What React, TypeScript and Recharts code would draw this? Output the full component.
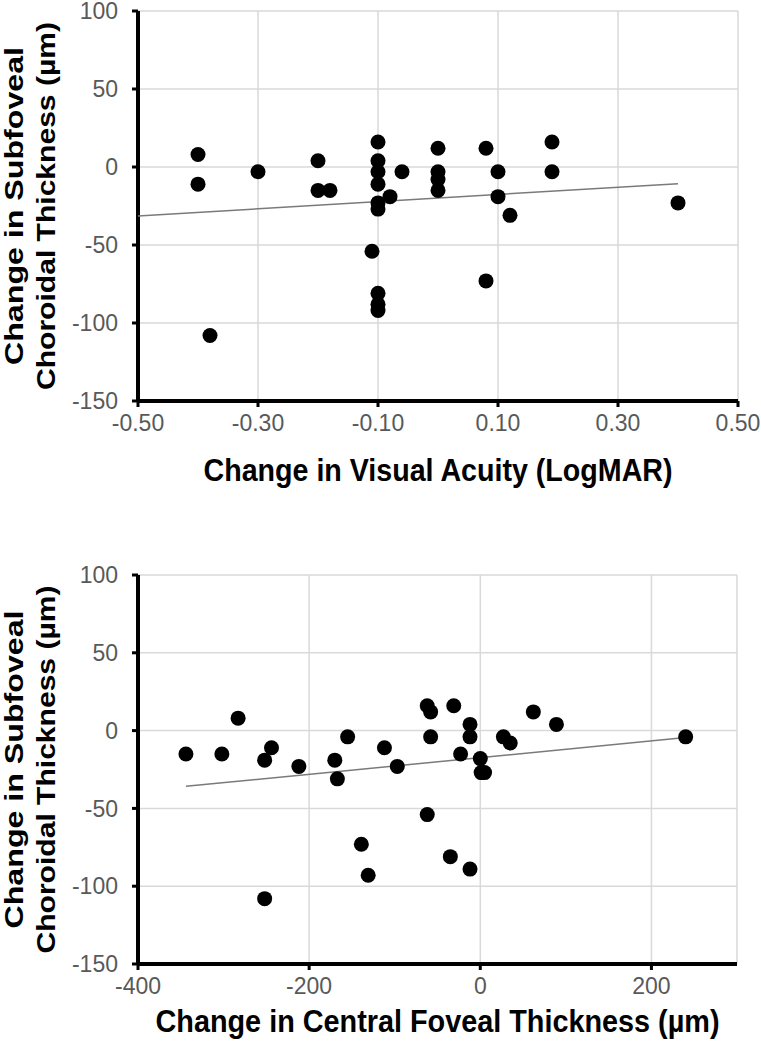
import React from "react";
import { ScatterChart, Scatter, XAxis, YAxis, CartesianGrid, Label } from "recharts";

// Top panel: change in visual acuity (logMAR) vs change in SFCT (µm)
const vaChange = [
  -0.4, -0.4, -0.38, -0.3, -0.2, -0.2, -0.18, -0.1, -0.1, -0.1, -0.1, -0.08, -0.1, -0.1, -0.11, -0.1,
  -0.1, -0.1, -0.06, 0, 0, 0, 0, 0.08, 0.1, 0.1, 0.12, 0.08, 0.19, 0.19, 0.4,
];
const sfctVsVa = [
  8, -11, -108, -3, 4, -15, -15, 16, 4, -3, -11, -19, -23, -27, -54, -81,
  -88, -92, -3, 12, -3, -8, -15, 12, -3, -19, -31, -73, 16, -3, -23,
];
const vaTrendX = [-0.5, 0.4];
const vaTrendY = [-31.4, -10.7];

// Bottom panel: change in central foveal thickness vs change in SFCT
const cftChange = [
  -344, -302, -283, -252, -244, -252, -212, -170, -167, -155, -139, -131, -112, -97, -62, -58,
  -58, -62, -31, -12, -12, -23, 0, 1, 5, -35, -12, 27, 35, 62, 89, 240,
];
const sfctVsCft = [
  -15, -15, 8, -19, -11, -108, -23, -19, -31, -4, -73, -93, -11, -23, 16, 12,
  -4, -54, 16, 4, -4, -15, -18, -27, -27, -81, -89, -4, -8, 12, 4, -4,
];
const cftTrendX = [-344, 240];
const cftTrendY = [-35.8, -4.5];

const yTicks = [-150, -100, -50, 0, 50, 100];
const vaTicks = [-0.5, -0.3, -0.1, 0.1, 0.3, 0.5];
const cftTicks = [-400, -200, 0, 200];

const zip = (xs: number[], ys: number[]) => xs.map((x, i) => ({ x, y: ys[i] }));

const FONT = "'Liberation Sans', Arial, Helvetica, sans-serif";
const tickStyle = { fill: "#595959", fontSize: 23, fontFamily: FONT };

const Dot = (props: any) => <circle cx={props.cx} cy={props.cy} r={7.5} fill="#000" />;
const NoDot = () => <g />;

function YTitle(props: any) {
  const vb = props.viewBox;
  const cy = vb.y + vb.height / 2;
  const common = {
    textAnchor: "middle" as const,
    fontFamily: FONT,
    fontWeight: 700,
    fontSize: 26,
    fill: "#000",
    lengthAdjust: "spacingAndGlyphs",
  };
  return (
    <g>
      <text {...common} x={23} y={cy} transform={`rotate(-90, 23, ${cy})`} textLength={318}>
        Change in Subfoveal
      </text>
      <text {...common} x={55} y={cy} transform={`rotate(-90, 55, ${cy})`} textLength={368}>
        Choroidal Thickness (µm)
      </text>
    </g>
  );
}

function xTitle(text: string, length: number, dy: number) {
  return (props: any) => {
    const vb = props.viewBox;
    return (
      <text
        x={vb.x + vb.width / 2}
        y={vb.y + dy}
        textAnchor="middle"
        fontFamily={FONT}
        fontWeight={700}
        fontSize={32}
        fill="#000"
        textLength={length}
        lengthAdjust="spacingAndGlyphs"
      >
        {text}
      </text>
    );
  };
}

function Panel({ data, trend, xDomain, xTicks, fmt, margin, axisHeight, title, titleLength, titleDy }: any) {
  return (
    <ScatterChart width={761} height={524} margin={margin}>
      <CartesianGrid stroke="#d9d9d9" strokeWidth={1.5} />
      <XAxis
        type="number"
        dataKey="x"
        domain={xDomain}
        ticks={xTicks}
        tickFormatter={fmt}
        interval={0}
        height={axisHeight}
        axisLine={{ stroke: "#000", strokeWidth: 4 }}
        tickLine={{ stroke: "#000", strokeWidth: 3 }}
        tickSize={6}
        tickMargin={8}
        tick={tickStyle}
      >
        <Label content={xTitle(title, titleLength, titleDy)} />
      </XAxis>
      <YAxis
        type="number"
        dataKey="y"
        domain={[-150, 100]}
        ticks={yTicks}
        interval={0}
        width={138}
        axisLine={{ stroke: "#000", strokeWidth: 4 }}
        tickLine={{ stroke: "#000", strokeWidth: 3 }}
        tickSize={6}
        tickMargin={14}
        tick={tickStyle}
      >
        <Label content={YTitle} />
      </YAxis>
      <Scatter
        data={trend}
        line={{ stroke: "#7a7a7a", strokeWidth: 1.5 }}
        shape={NoDot}
        isAnimationActive={false}
      />
      <Scatter data={data} shape={Dot} isAnimationActive={false} />
    </ScatterChart>
  );
}

export default function App() {
  return (
    <div style={{ width: 761, height: 1048, background: "#fff" }}>
      <style>{"body{margin:0}"}</style>
      <Panel
        data={zip(vaChange, sfctVsVa)}
        trend={zip(vaTrendX, vaTrendY)}
        xDomain={[-0.5, 0.5]}
        xTicks={vaTicks}
        fmt={(v: number) => v.toFixed(2)}
        margin={{ top: 11, right: 23, bottom: 0, left: 0 }}
        axisHeight={123}
        title="Change in Visual Acuity (LogMAR)"
        titleLength={469}
        titleDy={80}
      />
      <Panel
        data={zip(cftChange, sfctVsCft)}
        trend={zip(cftTrendX, cftTrendY)}
        xDomain={[-400, 300]}
        xTicks={cftTicks}
        fmt={(v: number) => String(v)}
        margin={{ top: 51, right: 24, bottom: 0, left: 0 }}
        axisHeight={84}
        title="Change in Central Foveal Thickness (µm)"
        titleLength={564}
        titleDy={68}
      />
    </div>
  );
}
